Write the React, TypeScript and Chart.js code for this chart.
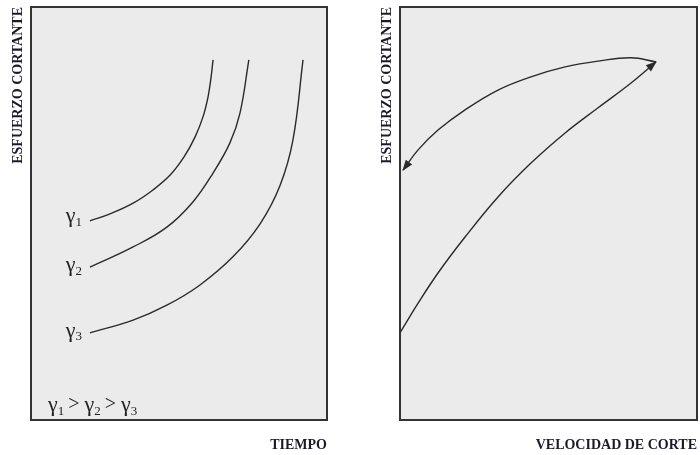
import React, { useEffect, useRef } from "react";
import { Chart, registerables } from "chart.js";
Chart.register(...registerables);

// ---- Left panel: shear stress vs time for three shear rates ----
const gamma1X = [19.9, 26.7, 34.5, 41.2, 47.0, 51.7, 55.4, 58.1, 59.8, 60.8, 61.5];
const gamma1Y = [48.2, 49.9, 52.5, 55.7, 59.3, 63.7, 68.5, 73.4, 78.2, 82.8, 87.2];
const gamma2X = [19.9, 34.5, 45.9, 54.7, 61.5, 67.2, 70.6, 73.6];
const gamma2Y = [37.0, 41.9, 46.7, 52.8, 59.8, 67.1, 74.3, 87.2];
const gamma3X = [19.9, 34.5, 45.9, 57.1, 68.2, 77.4, 84.1, 88.5, 91.9];
const gamma3Y = [21.1, 24.2, 27.8, 32.7, 39.5, 47.5, 56.7, 67.8, 87.2];
const gammaSubs = ["1", "2", "3"];

// ---- Right panel: hysteresis loop, stress vs shear rate ----
const upX = [0, 6.1, 12.8, 21.9, 33.0, 44.1, 55.6, 66.7, 77.8, 86.2];
const upY = [21.1, 28.3, 35.6, 44.3, 54.0, 62.2, 69.5, 75.6, 81.6, 86.7];
const downX = [86.2, 77.8, 66.7, 55.6, 44.1, 33.0, 21.9, 12.8, 6.1, 1.0];
const downY = [86.7, 87.7, 86.9, 85.5, 83.1, 79.9, 75.1, 70.2, 65.4, 60.5];

const yTitle = "ESFUERZO CORTANTE";
const xTitleLeft = "TIEMPO";
const xTitleRight = "VELOCIDAD DE CORTE";

const LINE = "#2a2a2a";
const SERIF = "'Liberation Serif', 'DejaVu Serif', serif";

const zip = (xs: number[], ys: number[]) => xs.map((x, i) => ({ x, y: ys[i] }));

const framePlugin = {
  id: "frame",
  beforeDraw(chart: any) {
    const { ctx, chartArea: a } = chart;
    ctx.save();
    ctx.fillStyle = "#ebebeb";
    ctx.fillRect(a.left, a.top, a.right - a.left, a.bottom - a.top);
    ctx.restore();
  },
  afterDraw(chart: any) {
    const { ctx, chartArea: a } = chart;
    ctx.save();
    ctx.strokeStyle = "#333333";
    ctx.lineWidth = 2;
    ctx.strokeRect(a.left, a.top, a.right - a.left, a.bottom - a.top);
    ctx.restore();
  },
};

function drawGamma(ctx: CanvasRenderingContext2D, x: number, y: number, sub: string, align: "left" | "right", size = 18) {
  ctx.save();
  ctx.fillStyle = "#222";
  ctx.textBaseline = "middle";
  const main = `${size}px ${SERIF}`;
  const small = `${Math.round(size * 0.6)}px ${SERIF}`;
  ctx.font = main;
  const w1 = ctx.measureText("γ").width;
  ctx.font = small;
  const w2 = ctx.measureText(sub).width;
  const total = w1 + w2;
  const x0 = align === "right" ? x - total : x;
  ctx.font = main;
  ctx.textAlign = "left";
  ctx.fillText("γ", x0, y);
  ctx.font = small;
  ctx.fillText(sub, x0 + w1, y + size * 0.28);
  ctx.restore();
  return total;
}

const gammaLabelsPlugin = {
  id: "gammaLabels",
  afterDatasetsDraw(chart: any) {
    const { ctx, chartArea: a } = chart;
    chart.data.datasets.forEach((ds: any, i: number) => {
      const meta = chart.getDatasetMeta(i);
      const p = meta.data[0];
      if (!p) return;
      drawGamma(ctx, p.x - 8, p.y - (i === 0 ? 5 : 2), gammaSubs[i], "right", 22);
    });
    // relation text
    let x = a.left + 17;
    const y = a.bottom - 15;
    ctx.save();
    for (let i = 0; i < gammaSubs.length; i++) {
      x += drawGamma(ctx, x, y, gammaSubs[i], "left", 22);
      if (i < gammaSubs.length - 1) {
        ctx.font = `20px ${SERIF}`;
        ctx.fillStyle = "#222";
        ctx.textBaseline = "middle";
        ctx.textAlign = "left";
        ctx.fillText(">", x + 4, y);
        x += ctx.measureText(">").width + 9;
      }
    }
    ctx.restore();
  },
};

const arrowPlugin = {
  id: "arrows",
  afterDatasetsDraw(chart: any) {
    const { ctx } = chart;
    chart.data.datasets.forEach((ds: any, i: number) => {
      if (!ds.arrow) return;
      const pts = chart.getDatasetMeta(i).data;
      const last = pts[pts.length - 1];
      const prev = pts[pts.length - 2];
      let tx = last.cp1x ?? prev.x;
      let ty = last.cp1y ?? prev.y;
      if (Math.hypot(last.x - tx, last.y - ty) < 0.5) {
        tx = prev.x;
        ty = prev.y;
      }
      const ang = Math.atan2(last.y - ty, last.x - tx);
      const L = 10;
      const W = 4;
      ctx.save();
      ctx.fillStyle = LINE;
      ctx.translate(last.x, last.y);
      ctx.rotate(ang);
      ctx.beginPath();
      ctx.moveTo(1, 0);
      ctx.lineTo(-L, -W);
      ctx.lineTo(-L, W);
      ctx.closePath();
      ctx.fill();
      ctx.restore();
    });
  },
};

function makeConfig(datasets: any[], xTitle: string, plugins: any[]) {
  return {
    type: "scatter" as const,
    data: { datasets },
    plugins: [framePlugin, ...plugins],
    options: {
      animation: false as const,
      responsive: false,
      maintainAspectRatio: false,
      layout: { padding: { top: 7, right: 3, bottom: 0, left: 0 } },
      plugins: { legend: { display: false }, tooltip: { enabled: false } },
      elements: { point: { radius: 0, hoverRadius: 0 } },
      scales: {
        x: {
          type: "linear" as const,
          min: 0,
          max: 100,
          ticks: { display: false },
          grid: { display: false },
          border: { display: false },
          afterFit: (s: any) => {
            s.height = 35;
          },
          title: {
            display: true,
            text: xTitle,
            align: "end" as const,
            color: "#1a1a2a",
            font: { family: SERIF, size: 14, weight: "bold" as const },
            padding: { top: 0, bottom: 1 },
          },
        },
        y: {
          type: "linear" as const,
          min: 0,
          max: 100,
          ticks: { display: false },
          grid: { display: false },
          border: { display: false },
          afterFit: (s: any) => {
            s.width = 31;
          },
          title: {
            display: true,
            text: yTitle,
            align: "end" as const,
            color: "#1a1a2a",
            font: { family: SERIF, size: 14, weight: "bold" as const },
            padding: { top: 10, bottom: 0 },
          },
        },
      },
    },
  };
}

const lineDs = (data: any[], extra: any = {}) => ({
  data,
  showLine: true,
  borderColor: LINE,
  borderWidth: 1.4,
  tension: 0.4,
  pointRadius: 0,
  fill: false,
  clip: 6,
  ...extra,
});

export default function App() {
  const leftRef = useRef<HTMLCanvasElement>(null);
  const rightRef = useRef<HTMLCanvasElement>(null);

  useEffect(() => {
    const left = new Chart(
      leftRef.current!,
      makeConfig(
        [lineDs(zip(gamma1X, gamma1Y)), lineDs(zip(gamma2X, gamma2Y)), lineDs(zip(gamma3X, gamma3Y))],
        xTitleLeft,
        [gammaLabelsPlugin]
      ) as any
    );
    const right = new Chart(
      rightRef.current!,
      makeConfig(
        [lineDs(zip(upX, upY), { arrow: true }), lineDs(zip(downX, downY), { arrow: true })],
        xTitleRight,
        [arrowPlugin]
      ) as any
    );
    return () => {
      left.destroy();
      right.destroy();
    };
  }, []);

  return (
    <div style={{ position: "fixed", left: 0, top: 0, width: 700, height: 455, background: "#fff" }}>
      <canvas ref={leftRef} width={330} height={455} style={{ position: "absolute", left: 0, top: 0, width: 330, height: 455 }} />
      <canvas ref={rightRef} width={331} height={455} style={{ position: "absolute", left: 369, top: 0, width: 331, height: 455 }} />
    </div>
  );
}
